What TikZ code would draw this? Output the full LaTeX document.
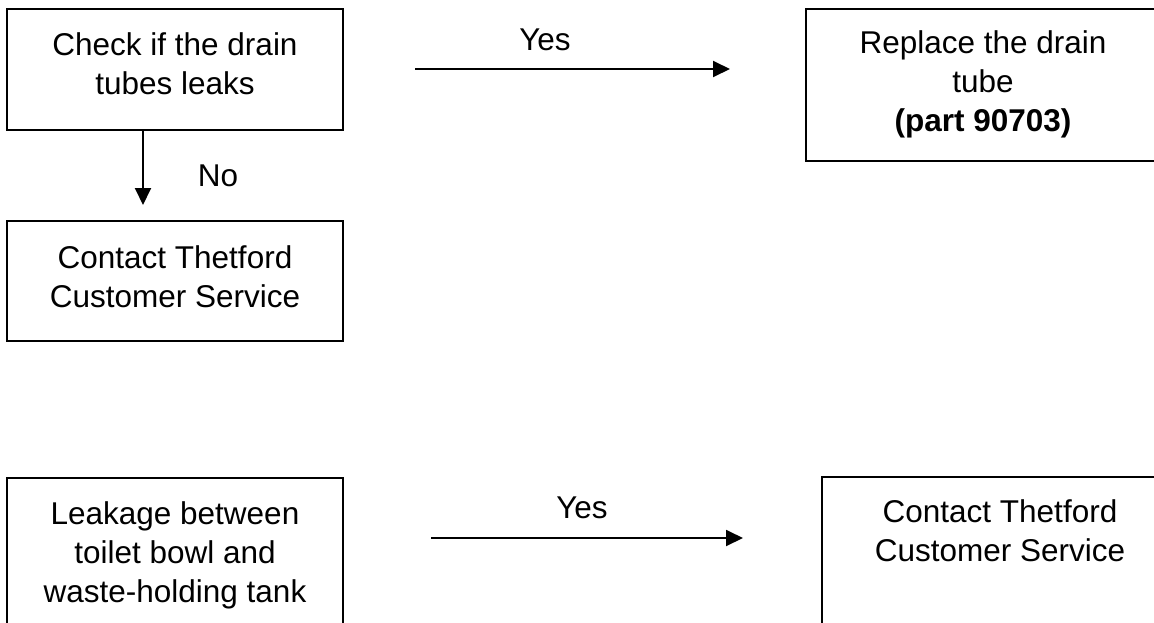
\documentclass[tikz,border=0pt]{standalone}
\usepackage{fontspec}
\setmainfont{Liberation Sans}
\usetikzlibrary{arrows.meta}
\begin{document}
\begin{tikzpicture}[x=1pt,y=-1pt,
  boxnode/.style={draw=black,line width=1.6pt,minimum width=#1,inner sep=0pt},
  txt/.style={align=center,font=\fontsize{31.5pt}{39pt}\selectfont,inner sep=0pt},
  lbl/.style={font=\fontsize{31.5pt}{39pt}\selectfont,inner sep=0pt},
  conn/.style={line width=1.9pt,-{Triangle[length=17pt,width=16pt]}}]
\useasboundingbox (0,0) rectangle (1154,622);
\clip (0,0) rectangle (1154,622);
\fill[white] (0,0) rectangle (1154,622);
% boxes
\node[boxnode=336pt,minimum height=121pt] (b1) at (175,69.5) {};
\node[boxnode=336pt,minimum height=120pt] (b2) at (175,281) {};
\node[boxnode=364pt,minimum height=152pt] (b3) at (988,85) {};
\node[boxnode=336pt,minimum height=162pt] (b4) at (175,559) {};
\node[boxnode=348pt,minimum height=163pt] (b5) at (996,558.5) {};
% texts
\node[txt] (t1) at (175,64) {Check if the drain\\tubes leaks};
\node[txt] (t2) at (175,277) {Contact Thetford\\Customer Service};
\node[txt] (t3) at (983,84) {Replace the drain\\tube\\\textbf{(part 90703)}};
\node[txt] (t4) at (175,555) {Leakage between\\toilet bowl and\\waste-holding tank};
\node[txt] (t5) at (1000,531) {Contact Thetford\\Customer Service};
% labels
\node[lbl] (yes1) at (545,40) {Yes};
\node[lbl] (no) at (218,176) {No};
\node[lbl] (yes2) at (582,508) {Yes};
% connector ends
\coordinate (a1s) at (415,69);
\coordinate (a1e) at (730,69);
\coordinate (a2s) at (b1.south -| 143,0);
\coordinate (a2e) at (143,205);
\coordinate (a3s) at (431,538);
\coordinate (a3e) at (743,538);
\draw[conn] (a1s) -- (a1e);
\draw[conn] (a2s) -- (a2e);
\draw[conn] (a3s) -- (a3e);
\end{tikzpicture}
\end{document}
